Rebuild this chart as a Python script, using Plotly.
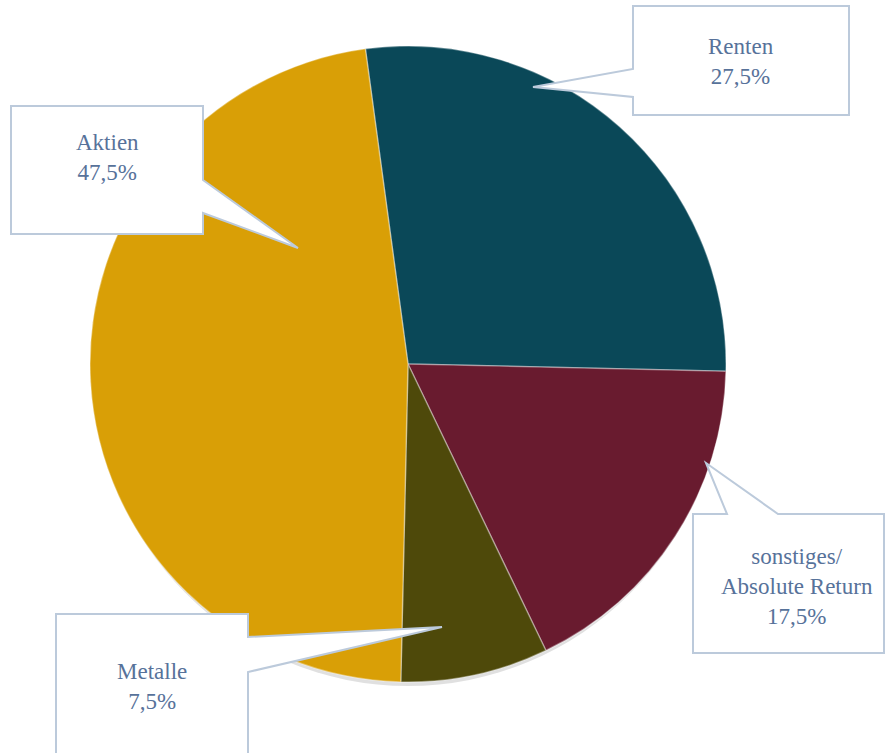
import plotly.graph_objects as go

labels = ["Renten", "sonstiges/<br>Absolute Return", "Metalle", "Aktien"]
values = [27.5, 17.5, 7.5, 47.5]
value_labels = ["27,5%", "17,5%", "7,5%", "47,5%"]
colors = ["#0a4858", "#691b2f", "#4e490a", "#d99f06"]

W, H = 886, 753
cx, cy, r = 408, 364, 318


def P(x, y):
    return f"{x / W:.5f},{1 - y / H:.5f}"


def path(points):
    return "M " + " L ".join(P(x, y) for x, y in points) + " Z"


fig = go.Figure()
fig.add_trace(go.Pie(
    labels=labels,
    values=values,
    sort=False,
    direction="clockwise",
    rotation=-7.7,
    textinfo="none",
    hoverinfo="label+percent",
    marker=dict(colors=colors, line=dict(color="rgba(255,255,255,0.35)", width=1.5)),
    domain=dict(x=[(cx - r) / W, (cx + r) / W], y=[1 - (cy + r) / H, 1 - (cy - r) / H]),
    showlegend=False,
))

shapes = []
# soft shadow under the pie
shapes.append(dict(type="circle", xref="paper", yref="paper", layer="below",
                   x0=(cx - r + 3) / W, x1=(cx + r - 3) / W,
                   y0=1 - (cy + r + 4) / H, y1=1 - (cy - r + 4) / H,
                   fillcolor="rgba(0,0,0,0.12)", line=dict(width=0)))

callouts = [
    [(11, 106), (203, 106), (203, 180), (298, 248), (203, 213), (203, 234), (11, 234)],
    [(633, 6), (849, 6), (849, 115), (633, 115), (633, 97), (533, 87), (633, 69)],
    [(693, 514), (727, 514), (706, 463), (778, 514), (884, 514), (884, 653), (693, 653)],
    [(56, 614), (248, 614), (248, 637), (442, 627), (248, 672), (248, 760), (56, 760)],
]
for pts in callouts:
    shapes.append(dict(type="path", xref="paper", yref="paper", layer="above",
                       path=path(pts), fillcolor="white",
                       line=dict(color="#bccadb", width=2)))

text_pos = [(741, 61), (797, 586), (152, 686), (107, 157)]
annotations = []
for lab, val, (x, y) in zip(labels, value_labels, text_pos):
    annotations.append(dict(xref="paper", yref="paper", x=x / W, y=1 - y / H,
                            text=f"{lab}<br>{val}", showarrow=False,
                            xanchor="center", yanchor="middle", align="center",
                            font=dict(family="Liberation Serif", size=23, color="#57729a")))

fig.update_layout(
    width=W, height=H,
    margin=dict(l=0, r=0, t=0, b=0),
    paper_bgcolor="white", plot_bgcolor="white",
    shapes=shapes, annotations=annotations,
)

fig.write_html("out.html", config={"displayModeBar": False},
               post_script="document.body.style.margin='0';")
